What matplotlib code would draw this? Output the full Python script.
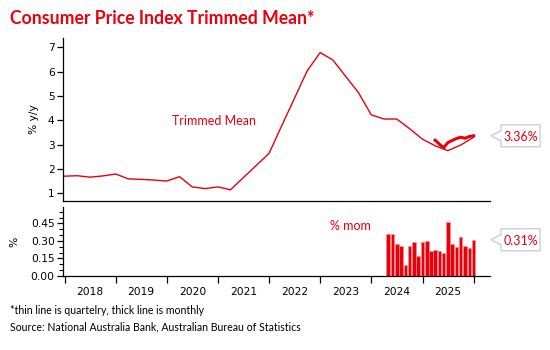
import matplotlib
matplotlib.use("Agg")
import matplotlib.pyplot as plt
import matplotlib.dates as mdates
import matplotlib.transforms as mtransforms
from matplotlib.patches import Polygon
from matplotlib.ticker import FixedLocator
import pandas as pd

RED = "#e8000d"

# ---------------- data ----------------
quarter_dates = pd.date_range("2017-12-31", "2025-12-31", freq="QE")
quarterly_yy = [1.70, 1.72, 1.66, 1.71, 1.79, 1.59, 1.57, 1.54, 1.50, 1.68,
                1.26, 1.19, 1.26, 1.14, 1.64, 2.14, 2.64, 3.77, 4.90, 6.04,
                6.78, 6.48, 5.81, 5.14, 4.22, 4.05, 4.05, 3.65, 3.22, 2.95,
                2.75, 2.98, 3.30]

monthly_dates = pd.date_range("2025-03-31", "2025-12-31", freq="ME")
monthly_yy = [3.18, 3.02, 2.87, 3.08, 3.17, 3.25, 3.30, 3.26, 3.33, 3.36]

mom_dates = pd.date_range("2024-04-30", "2025-12-31", freq="ME")
mom_values = [0.36, 0.36, 0.27, 0.26, 0.09, 0.26, 0.29, 0.17, 0.29, 0.30,
              0.21, 0.22, 0.21, 0.20, 0.46, 0.27, 0.25, 0.33, 0.26, 0.24, 0.31]

top_yticks = [1, 2, 3, 4, 5, 6, 7]
bottom_yticks = [0.00, 0.15, 0.30, 0.45]

# ---------------- figure ----------------
plt.rcParams["font.family"] = ["DejaVu Sans"]
fig = plt.figure(figsize=(5.5, 3.5), dpi=100)

W, H = 550, 350
def rect(l, t, r, b):
    return [l / W, 1 - b / H, (r - l) / W, (b - t) / H]

ax1 = fig.add_axes(rect(63, 38, 490, 201))
ax2 = fig.add_axes(rect(63, 207, 490, 276), sharex=ax1)

xlim = (pd.Timestamp("2017-12-20"), pd.Timestamp("2026-04-27"))

# top panel
ax1.plot(quarter_dates, quarterly_yy, color=RED, lw=1.0, solid_joinstyle="miter")
ax1.plot(monthly_dates, monthly_yy, color=RED, lw=2.2, solid_joinstyle="miter")
ax1.set_xlim(*xlim)
ax1.set_ylim(0.68, 7.38)
ax1.set_yticks(top_yticks)
ax1.set_yticklabels([str(v) for v in top_yticks])
for s in ["top", "right"]:
    ax1.spines[s].set_visible(False)
ax1.tick_params(axis="x", which="both", bottom=False, labelbottom=False)
ax1.tick_params(axis="y", length=4, width=0.9, labelsize=7.7, pad=2)
ax1.set_ylabel("% y/y", fontsize=7.7)
ax1.yaxis.set_label_coords(-0.057, 0.5)
ax1.text(0.354, 0.49, "Trimmed Mean", transform=ax1.transAxes, color=RED,
         fontsize=9, family="Lato", ha="center", va="center")

# bottom panel
ax2.bar(mom_dates, mom_values, width=25, color=RED, edgecolor="#ff8a8a",
        linewidth=0.5, align="center")
ax2.set_ylim(0, 0.59)
ax2.set_yticks(bottom_yticks)
ax2.set_yticklabels([f"{v:.2f}" for v in bottom_yticks])
ax2.yaxis.set_minor_locator(FixedLocator([0.05, 0.10, 0.20, 0.25, 0.35, 0.40, 0.50, 0.55]))
for s in ["top", "right"]:
    ax2.spines[s].set_visible(False)
ax2.tick_params(axis="y", which="major", length=4, width=0.9, labelsize=7.7, pad=2)
ax2.tick_params(axis="y", which="minor", length=3, width=0.8)
ax2.set_ylabel("%", fontsize=7.7)
ax2.yaxis.set_label_coords(-0.103, 0.5)
ax2.text(0.674, 0.725, "% mom", transform=ax2.transAxes, color=RED,
         fontsize=9, family="Lato", ha="center", va="center")

ax2.xaxis.set_major_locator(mdates.YearLocator(1, month=1, day=1))
ax2.xaxis.set_major_formatter(plt.NullFormatter())
ax2.xaxis.set_minor_locator(mdates.YearLocator(1, month=7, day=1))
ax2.xaxis.set_minor_formatter(mdates.DateFormatter("%Y"))
ax2.tick_params(axis="x", which="major", length=5, width=0.9)
ax2.tick_params(axis="x", which="minor", length=0, labelsize=7.7, pad=8)

for ax in (ax1, ax2):
    for s in ["left", "bottom"]:
        ax.spines[s].set_linewidth(0.9)

# callout labels
def callout(ax, value, text):
    anchor = mtransforms.ScaledTranslation(1.0, value, ax.get_yaxis_transform())
    tr = mtransforms.Affine2D() + anchor
    verts = [(1, 0), (11, 5), (11, 11), (50, 11), (50, -11), (11, -11), (11, -5)]
    poly = Polygon(verts, closed=True, transform=tr, facecolor="white",
                   edgecolor="#cfcfcf", lw=1.0, clip_on=False)
    fig.add_artist(poly)
    t_tr = mtransforms.Affine2D().translate(30.5, 0) + anchor
    fig.text(0, 0, text, transform=t_tr, color=RED, fontsize=9,
             family="Lato", ha="center", va="center_baseline")

callout(ax1, monthly_yy[-1], f"{monthly_yy[-1]:.2f}%")
callout(ax2, mom_values[-1], f"{mom_values[-1]:.2f}%")

# title & footnotes
fig.text(10 / W, 1 - 24 / H, "Consumer Price Index Trimmed Mean*", color=RED,
         fontsize=12.7, family="Lato", weight="bold", ha="left", va="baseline")
fig.text(10 / W, 1 - 311 / H, "*thin line is quartelry, thick line is monthly",
         fontsize=7.6, family="Lato", ha="left", va="center")
fig.text(10 / W, 1 - 327 / H, "Source: National Australia Bank, Australian Bureau of Statistics",
         fontsize=7.6, family="Lato", ha="left", va="center")

fig.savefig("out.png", dpi=100)
